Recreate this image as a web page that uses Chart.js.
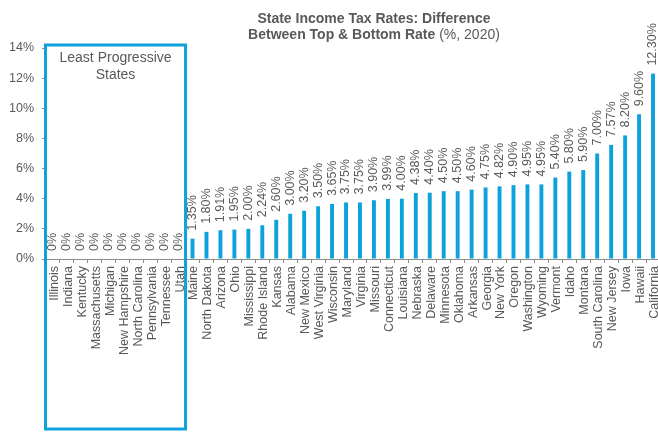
<!DOCTYPE html>
<html>
<head>
<meta charset="utf-8">
<script src="https://cdn.jsdelivr.net/npm/chart.js@4.4.1/dist/chart.umd.min.js"></script>
<style>
  html, body { margin: 0; padding: 0; background: #ffffff; overflow: hidden; }
  #wrap { width: 658px; height: 432px; position: relative; overflow: hidden; }
</style>
</head>
<body>
<div id="wrap"><canvas id="chart" width="660" height="432"></canvas></div>
<script>
// States ordered by the spread between top and bottom income tax rate
const states = [
  'Illinois', 'Indiana', 'Kentucky', 'Massachusetts', 'Michigan', 'New Hampshire',
  'North Carolina', 'Pennsylvania', 'Tennessee', 'Utah',
  'Maine', 'North Dakota', 'Arizona', 'Ohio', 'Mississippi', 'Rhode Island',
  'Kansas', 'Alabama', 'New Mexico', 'West Virginia', 'Wisconsin', 'Maryland',
  'Virginia', 'Missouri', 'Connecticut', 'Louisiana', 'Nebraska', 'Delaware',
  'Minnesota', 'Oklahoma', 'Arkansas', 'Georgia', 'New York', 'Oregon',
  'Washington', 'Wyoming', 'Vermont', 'Idaho', 'Montana', 'South Carolina',
  'New Jersey', 'Iowa', 'Hawaii', 'California'
];

// Difference between top and bottom rate, in percentage points (2020)
const rateSpread = [
  0, 0, 0, 0, 0, 0, 0, 0, 0, 0,
  1.35, 1.80, 1.91, 1.95, 2.00, 2.24, 2.60, 3.00, 3.20, 3.50,
  3.65, 3.75, 3.75, 3.90, 3.99, 4.00, 4.38, 4.40, 4.50, 4.50,
  4.60, 4.75, 4.82, 4.90, 4.95, 4.95, 5.40, 5.80, 5.90, 7.00,
  7.57, 8.20, 9.60, 12.30
];

// Flat-tax states highlighted by the box
const leastProgressiveCount = 10;

const yTicks = [0, 2, 4, 6, 8, 10, 12, 14];

const FONT = "'Liberation Sans', Arial, sans-serif";
const TEXT = '#595959';
const BLUE = '#0DA2DB';
const AXIS = '#8c8c8c';

// Title with a bold lead and a regular-weight unit note
const titlePlugin = {
  id: 'mixedTitle',
  afterDraw(chart) {
    const ctx = chart.ctx;
    const cx = 374;
    ctx.save();
    ctx.fillStyle = TEXT;
    ctx.textBaseline = 'middle';
    ctx.textAlign = 'center';
    ctx.font = 'bold 14px ' + FONT;
    ctx.fillText('State Income Tax Rates: Difference', cx, 19);
    const boldPart = 'Between Top & Bottom Rate';
    const normPart = ' (%, 2020)';
    const wb = ctx.measureText(boldPart).width;
    ctx.font = '14px ' + FONT;
    const wn = ctx.measureText(normPart).width;
    const start = cx - (wb + wn) / 2;
    ctx.textAlign = 'left';
    ctx.font = 'bold 14px ' + FONT;
    ctx.fillText(boldPart, start, 35);
    ctx.font = '14px ' + FONT;
    ctx.fillText(normPart, start + wb, 35);
    ctx.restore();
  }
};

// Vertical value labels above each bar
const valueLabelPlugin = {
  id: 'valueLabels',
  afterDatasetsDraw(chart) {
    const ctx = chart.ctx;
    const meta = chart.getDatasetMeta(0);
    const values = chart.data.datasets[0].data;
    ctx.save();
    ctx.fillStyle = TEXT;
    ctx.font = '12.5px ' + FONT;
    ctx.textAlign = 'left';
    ctx.textBaseline = 'middle';
    meta.data.forEach((bar, i) => {
      const v = values[i];
      const txt = v === 0 ? '0%' : v.toFixed(2) + '%';
      ctx.save();
      ctx.translate(bar.x, bar.y - 8);
      ctx.rotate(-Math.PI / 2);
      ctx.fillText(txt, 0, 0);
      ctx.restore();
    });
    ctx.restore();
  }
};

// Outline around the flat-tax group with its caption
const groupBoxPlugin = {
  id: 'groupBox',
  afterDraw(chart) {
    const ctx = chart.ctx;
    const x = chart.scales.x;
    const y = chart.scales.y;
    const left = chart.chartArea.left - 0.5;
    const right = (x.getPixelForValue(leastProgressiveCount - 1) + x.getPixelForValue(leastProgressiveCount)) / 2;
    const top = y.getPixelForValue(14) - 3;
    const bottom = chart.height - 3;
    ctx.save();
    ctx.strokeStyle = BLUE;
    ctx.lineWidth = 3;
    ctx.strokeRect(left, top, right - left, bottom - top);
    ctx.fillStyle = TEXT;
    ctx.font = '14px ' + FONT;
    ctx.textAlign = 'center';
    ctx.textBaseline = 'middle';
    const cx = (left + right) / 2;
    ctx.fillText('Least Progressive', cx, top + 13);
    ctx.fillText('States', cx, top + 30);
    ctx.restore();
  }
};

new Chart(document.getElementById('chart'), {
  type: 'bar',
  data: {
    labels: states,
    datasets: [{
      data: rateSpread,
      backgroundColor: BLUE,
      borderWidth: 0,
      categoryPercentage: 1,
      barPercentage: 0.28
    }]
  },
  options: {
    responsive: false,
    animation: false,
    devicePixelRatio: 1,
    layout: { padding: { top: 48, right: 0, bottom: 0, left: 0 } },
    plugins: {
      legend: { display: false },
      title: { display: false },
      tooltip: { enabled: false }
    },
    scales: {
      x: {
        afterFit(scale) {
          scale.height = 173;
          scale.paddingLeft = 0;
          scale.paddingRight = 0;
        },
        grid: {
          display: true,
          drawOnChartArea: false,
          drawTicks: true,
          tickLength: 4,
          color: AXIS,
          offset: true
        },
        border: { display: true, color: AXIS, width: 1 },
        ticks: {
          autoSkip: false,
          maxRotation: 90,
          minRotation: 90,
          padding: 3,
          labelOffset: 1.5,
          color: TEXT,
          font: { family: FONT, size: 12.5 }
        }
      },
      y: {
        min: 0,
        max: 14,
        afterFit(scale) {
          scale.width = 46;
          scale.paddingTop = 0;
          scale.paddingBottom = 0;
        },
        afterBuildTicks(scale) { scale.ticks = yTicks.map(v => ({ value: v })); },
        grid: {
          display: true,
          drawOnChartArea: false,
          drawTicks: true,
          tickLength: 4,
          color: AXIS
        },
        border: { display: true, color: AXIS, width: 1 },
        ticks: {
          padding: 8,
          color: TEXT,
          font: { family: FONT, size: 12.5 },
          callback: v => v + '%'
        }
      }
    }
  },
  plugins: [valueLabelPlugin, groupBoxPlugin, titlePlugin]
});
</script>
</body>
</html>
